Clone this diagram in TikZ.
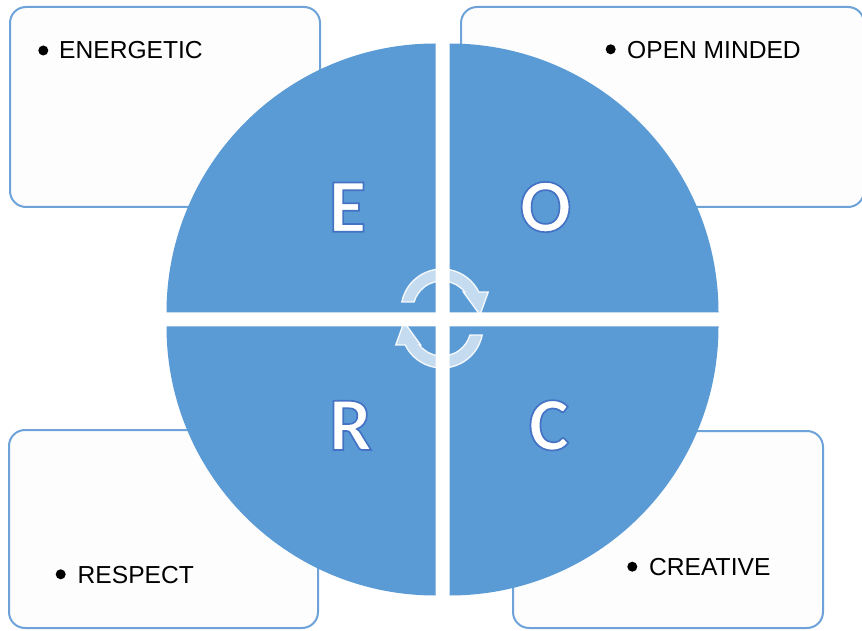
\documentclass[tikz,border=0pt]{standalone}
\usepackage{fontspec}
\setmainfont{Liberation Sans}
\newfontfamily\letterfont{Carlito}
\definecolor{qblue}{HTML}{5B9BD5}
\definecolor{boxline}{HTML}{6EA3DA}
\definecolor{boxfill}{HTML}{FDFDFD}
\tikzset{
  infobox/.style={draw=boxline, line width=2pt, fill=boxfill, rounded corners=16pt, inner sep=0pt, outer sep=0pt, anchor=south west},
  quad/.style={fill=qblue},
  itemtext/.style={anchor=base west, inner sep=0pt, font=\fontsize{24.6}{28}\selectfont},
  bulletdot/.style={circle, fill=black, inner sep=0pt, minimum size=10pt},
  letter/.style={anchor=base, inner sep=0pt, text=white, font=\letterfont\bfseries\fontsize{76}{80}\selectfont},
  cyc/.style={fill=white, fill opacity=0.65, draw=white, draw opacity=0.9, line width=1.3pt},
  cycarrow/.pic={
    \path[cyc] (168.7:41) arc[start angle=168.7, end angle=26, radius=41]
      -- (46.3,18) -- (38,-5) -- (21.3,18) -- (38.4:29)
      arc[start angle=38.4, end angle=164, radius=29] -- cycle;
  }
}
% white letter with a blue outline (fill, then stroke)
\newcommand\outlined[1]{\special{pdf:literal direct 2 Tr 1.7 w 0.267 0.447 0.769 RG}#1\special{pdf:literal direct 0 Tr}}
\begin{document}
\begin{tikzpicture}[x=1pt,y=1pt]
\useasboundingbox (0,0) rectangle (862,630);
\fill[white] (0,0) rectangle (862,630);
% text boxes
\node[infobox, minimum width=310pt, minimum height=200pt] (boxE) at (10,423) {};
\node[infobox, minimum width=403pt, minimum height=200pt] (boxO) at (461,423) {};
\node[infobox, minimum width=309pt, minimum height=198pt] (boxR) at (9,2) {};
\node[infobox, minimum width=310pt, minimum height=197pt] (boxC) at (513,2) {};
% items
\node[bulletdot] (bE) at (43.3,579.5) {};
\node[itemtext] (tE) at (59,571.7) {ENERGETIC};
\node[bulletdot] (bO) at (610.7,580.7) {};
\node[itemtext] (tO) at (627,571.7) {OPEN MINDED};
\node[bulletdot] (bR) at (60.7,55.7) {};
\node[itemtext] (tR) at (77.5,46.7) {RESPECT};
\node[bulletdot] (bC) at (632.3,63.3) {};
\node[itemtext] (tC) at (649,54.3) {CREATIVE};
% quadrants
\fill[quad] (435.5,317.5) -- ++(-269,0) arc[start angle=180, end angle=90, radius=269] -- cycle;
\fill[quad] (449.5,317.5) -- ++(0,269) arc[start angle=90, end angle=0, radius=269] -- cycle;
\fill[quad] (435.5,303.5) -- ++(-269,0) arc[start angle=180, end angle=270, radius=269] -- cycle;
\fill[quad] (449.5,303.5) -- ++(269,0) arc[start angle=0, end angle=-90, radius=269] -- cycle;
% letters
\node[letter] (E) at (347.5,398.3) {\outlined{E}};
\node[letter] (O) at (545.5,398.3) {\outlined{O}};
\node[letter] (R) at (350.5,180) {\outlined{R}};
\node[letter] (C) at (549,180) {\outlined{C}};
% cycle arrows
\pic (arrowtop) at (442,320) {cycarrow};
\pic[rotate=180] (arrowbot) at (442,303) {cycarrow};
\end{tikzpicture}
\end{document}
